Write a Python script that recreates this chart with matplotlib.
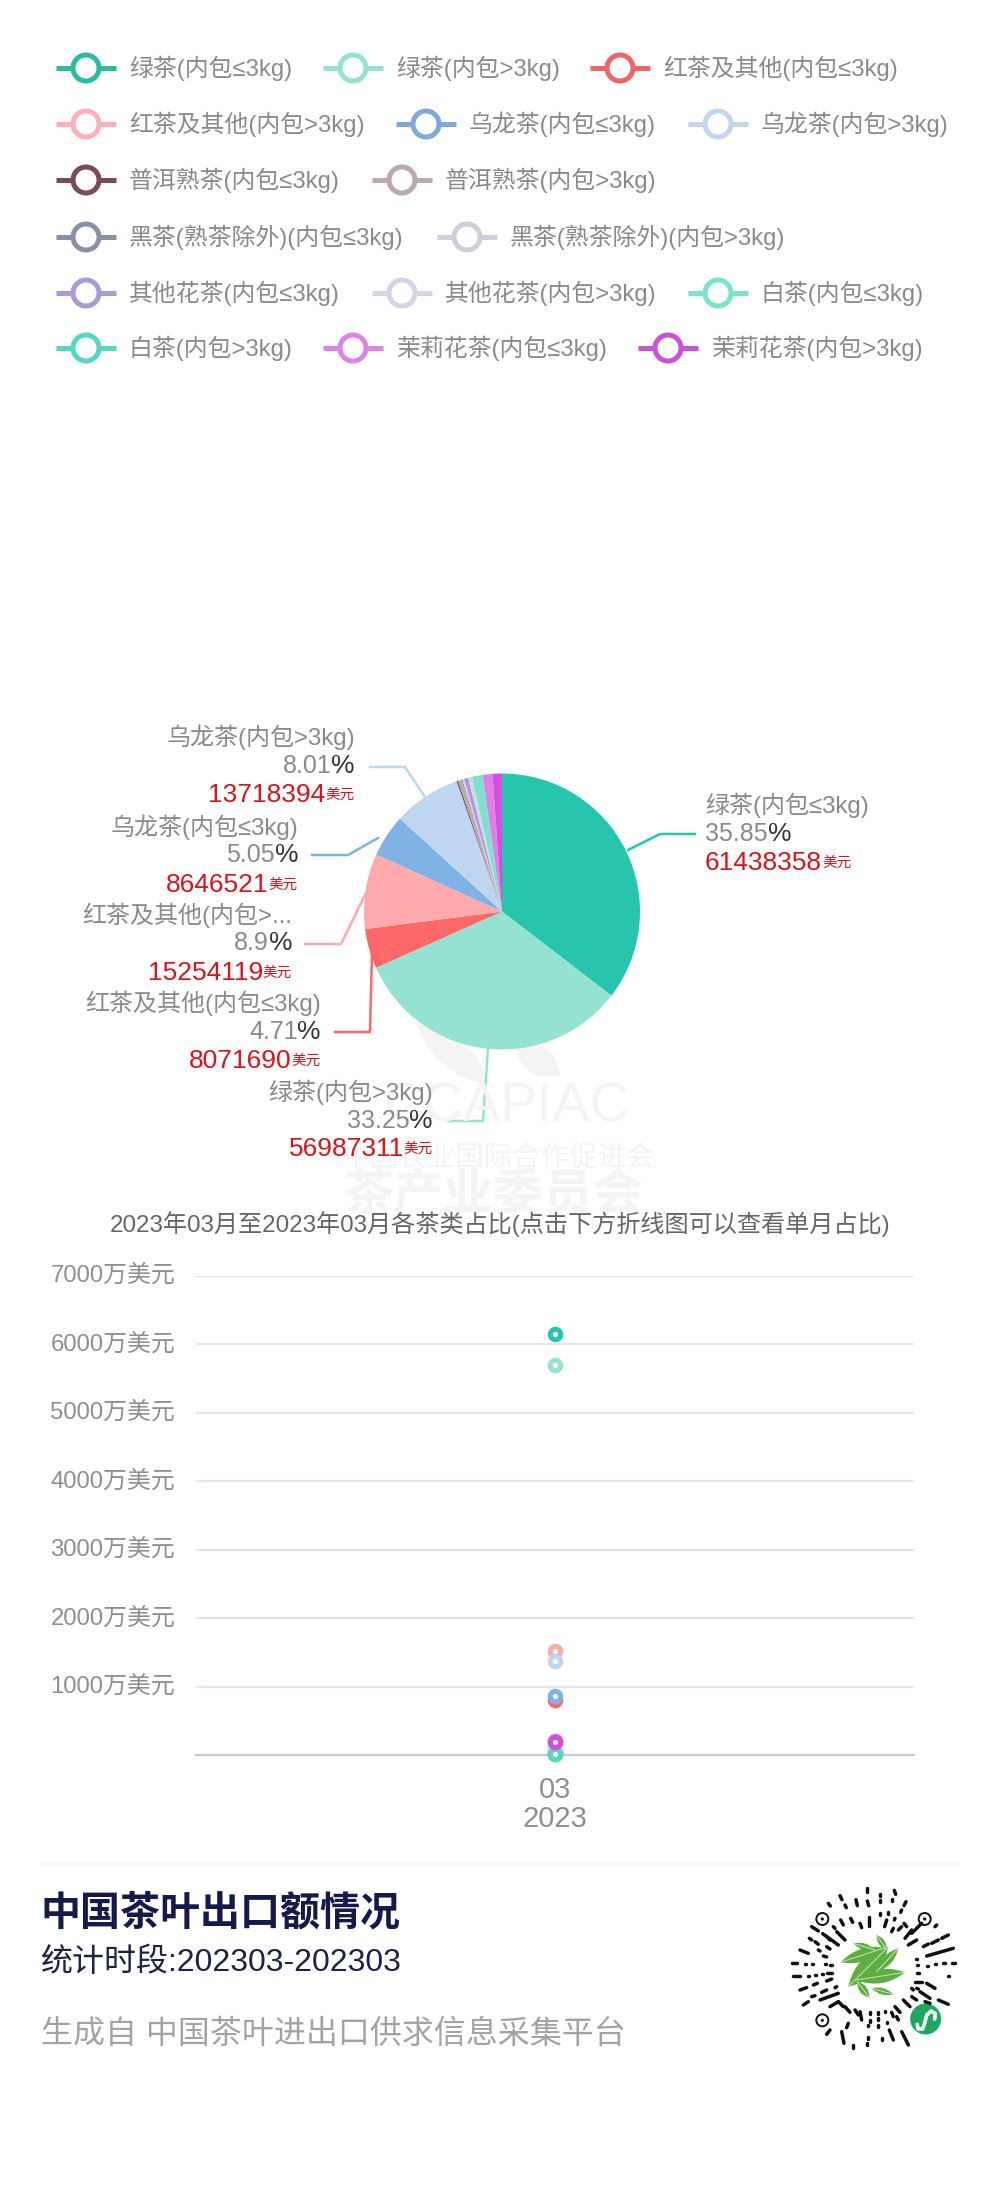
import matplotlib
matplotlib.use("Agg")
import matplotlib.pyplot as plt
from matplotlib.patches import Circle, PathPatch
from matplotlib.path import Path

plt.rcParams['font.family'] = ['Liberation Sans', 'Noto Sans CJK SC', 'DejaVu Sans']

series = ['绿茶(内包≤3kg)', '绿茶(内包>3kg)', '红茶及其他(内包≤3kg)', '红茶及其他(内包>3kg)',
          '乌龙茶(内包≤3kg)', '乌龙茶(内包>3kg)', '普洱熟茶(内包≤3kg)', '普洱熟茶(内包>3kg)',
          '黑茶(熟茶除外)(内包≤3kg)', '黑茶(熟茶除外)(内包>3kg)', '其他花茶(内包≤3kg)', '其他花茶(内包>3kg)',
          '白茶(内包≤3kg)', '白茶(内包>3kg)', '茉莉花茶(内包≤3kg)', '茉莉花茶(内包>3kg)']
values = [61438358, 56987311, 8071690, 15254119, 8646521, 13718394, 300000, 700000,
          200000, 400000, 800000, 800000, 2000000, 150000, 2000000, 1900000]
colors = ['#26C5AC', '#96E2D2', '#FF6868', '#FFAAAC', '#7FB3E6', '#BED6F0', '#7A4A5A', '#BBA9AD',
          '#8A90A6', '#CDD0DA', '#A99BD6', '#D6D4E9', '#7DE2CC', '#55D8C1', '#E07FE6', '#D04FE0']
legend_line_colors = ['#2ABBA0', '#96E2D2', '#EE6666', '#FFB0B8', '#7EA9DA', '#C5D5EC', '#7A4A5A', '#BBA9AD',
                      '#8A90A6', '#CDD0DA', '#A99BD6', '#D6D4E9', '#7DE2CC', '#55D8C1', '#DD84E8', '#C955D6']

# rows of the legend: first series index, symbol x of each item
legend_rows = [(0, [86, 353, 620]), (3, [86, 426, 718]), (6, [86, 402]),
               (8, [86, 467]), (10, [86, 402, 718]), (13, [86, 353, 668])]
legend_y = [68, 124, 180, 237, 293, 348]

yticks = [0, 1000, 2000, 3000, 4000, 5000, 6000, 7000]
ytick_labels = ['', '1000万美元', '2000万美元', '3000万美元', '4000万美元', '5000万美元', '6000万美元', '7000万美元']

# label name, percent, amount, align x, three text rows
pie_labels = [('绿茶(内包≤3kg)', '35.85', '61438358', 705, 'left', [805, 834, 863]),
              ('绿茶(内包>3kg)', '33.25', '56987311', 433, 'right', [1092, 1121, 1149]),
              ('红茶及其他(内包≤3kg)', '4.71', '8071690', 321, 'right', [1003, 1032, 1061]),
              ('红茶及其他(内包>...', '8.9', '15254119', 292, 'right', [915, 943, 973]),
              ('乌龙茶(内包≤3kg)', '5.05', '8646521', 298, 'right', [827, 855, 885]),
              ('乌龙茶(内包>3kg)', '8.01', '13718394', 355, 'right', [737, 766, 795])]
leader_x = [[628, 660, 695], [448, 483, 488], [335, 370, 372], [305, 341, 366], [312, 348, 378], [370, 405, 425]]
leader_y = [[850, 834, 834], [1121, 1121, 1049], [1032, 1032, 953], [944, 944, 893], [855, 855, 838], [767, 767, 797]]

# QR dashes in crop coordinates
qr_dashes = [(262, 38, 262, 52), (300, 58, 300, 62), (343, 46, 347, 58), (180, 62, 186, 74), (228, 74, 232, 92),
             (262, 78, 266, 92), (300, 76, 300, 82), (336, 72, 336, 78), (378, 80, 372, 92), (145, 85, 151, 93),
             (195, 90, 199, 98), (268, 126, 268, 152), (300, 115, 300, 120), (325, 112, 325, 118), (365, 105, 362, 112),
             (320, 135, 314, 155), (345, 130, 343, 135), (212, 130, 218, 142), (182, 135, 190, 150), (240, 145, 245, 158),
             (160, 155, 165, 160), (95, 155, 115, 168), (128, 176, 175, 210), (170, 170, 195, 195), (88, 190, 95, 195),
             (105, 200, 115, 208), (140, 185, 150, 195), (60, 225, 85, 235), (115, 225, 120, 228), (140, 215, 150, 222),
             (130, 243, 140, 246), (35, 263, 50, 263), (75, 266, 78, 266), (95, 266, 98, 266), (135, 268, 138, 268),
             (150, 270, 155, 270), (38, 304, 60, 304), (85, 302, 88, 302), (105, 300, 108, 300), (125, 298, 130, 298),
             (140, 295, 155, 295), (60, 345, 80, 338), (100, 330, 112, 325), (140, 318, 155, 312), (70, 390, 85, 380),
             (95, 365, 105, 362), (125, 352, 140, 345), (165, 338, 170, 335), (120, 375, 175, 355), (150, 395, 175, 380),
             (175, 380, 190, 395), (195, 395, 210, 412), (440, 243, 520, 220), (485, 190, 505, 180), (430, 215, 445, 207),
             (455, 205, 475, 195), (385, 210, 410, 195), (395, 175, 425, 145), (375, 190, 395, 165), (465, 155, 470, 150),
             (372, 145, 380, 155), (355, 165, 365, 155), (335, 170, 340, 160), (408, 252, 412, 252), (440, 272, 445, 272),
             (465, 268, 468, 268), (490, 265, 495, 265), (515, 263, 525, 263), (410, 270, 415, 270), (410, 295, 418, 295),
             (505, 303, 507, 303), (405, 320, 425, 320), (440, 325, 465, 340), (410, 340, 415, 342), (420, 350, 450, 370),
             (395, 340, 400, 345), (395, 365, 410, 375), (370, 375, 390, 395), (475, 375, 505, 388), (345, 395, 360, 412),
             (435, 380, 450, 385), (240, 410, 245, 435), (270, 412, 270, 418), (295, 412, 295, 418), (315, 408, 315, 412),
             (335, 412, 340, 425), (350, 425, 355, 435), (295, 430, 295, 435), (270, 435, 270, 440), (320, 440, 320, 445),
             (295, 450, 295, 455), (265, 450, 265, 452), (205, 445, 200, 458), (185, 470, 192, 505), (150, 465, 140, 478),
             (328, 465, 340, 495), (365, 470, 385, 510), (265, 485, 265, 492), (262, 505, 262, 510), (218, 510, 218, 520),
             (305, 490, 305, 495), (225, 405, 235, 420)]
qr_eyes = [(127, 132), (434, 132), (127, 436)]
# leaf tips and bulge
qr_leaves = [(182, 262, 315, 218, 38), (205, 335, 325, 215, 55), (228, 315, 375, 292, 42), (220, 205, 285, 225, 20),
             (290, 180, 320, 225, 20), (355, 220, 290, 290, 28), (232, 320, 268, 368, 24), (275, 340, 340, 358, 20)]

W, H = 1000, 2195
fig = plt.figure(figsize=(W / 100, H / 100), dpi=100, facecolor='white')


def rect(x0, y0, x1, y1):
    # pixel box (y down) to figure fractions
    return [x0 / W, 1 - y1 / H, (x1 - x0) / W, (y1 - y0) / H]


ax = fig.add_axes([0, 0, 1, 1])
ax.set_xlim(0, W)
ax.set_ylim(H, 0)
ax.axis('off')
renderer = fig.canvas.get_renderer()


def run_text(x, y, parts, align):
    # parts is a list of (text, size, color); drawn next to each other on one centre line
    if align == 'right':
        parts = parts[::-1]
    for s, size, col in parts:
        t = ax.text(x, y, s, fontsize=size, color=col, ha=align, va='center')
        w = t.get_window_extent(renderer).width
        x = x - w if align == 'right' else x + w


def leaf(x0, y0, x1, y1, wd, col):
    mx, my = (x0 + x1) / 2, (y0 + y1) / 2
    dx, dy = x1 - x0, y1 - y0
    n = (dx ** 2 + dy ** 2) ** 0.5
    px, py = -dy / n * wd, dx / n * wd
    verts = [(x0, y0), (mx + px, my + py), (x1, y1), (mx - px, my - py), (x0, y0)]
    codes = [Path.MOVETO, Path.CURVE3, Path.CURVE3, Path.CURVE3, Path.CURVE3]
    ax.add_patch(PathPatch(Path(verts, codes), fc=col, ec='none'))


def qx(x):
    return 780 + x / 3


def qy(y):
    return 1875 + y / 3


# legend
for (first, xs), y in zip(legend_rows, legend_y):
    for j, x in enumerate(xs):
        i = first + j
        col = legend_line_colors[i]
        ax.plot([x - 30, x + 30], [y, y], color=col, lw=3.6, solid_capstyle='butt', zorder=2)
        ax.add_patch(Circle((x, y), 13, fc='white', ec=col, lw=3.6, zorder=3))
        ax.text(x + 43, y, series[i], fontsize=17.2, color='#8a8a8a', va='center', ha='left')

# watermark behind the pie
wm = '#f4f4f4'
leaf(415, 1020, 490, 1085, 30, wm)
leaf(560, 1075, 515, 1045, 28, wm)
ax.text(506, 1108, 'CCAPIAC', fontsize=40, color=wm, ha='center', va='center')
ax.text(498, 1158, '中国农业国际合作促进会', fontsize=20.5, color=wm, ha='center', va='center')
ax.text(494, 1197, '茶产业委员会', fontsize=36, color=wm, ha='center', va='center', weight='bold')

# pie
pie_ax = fig.add_axes(rect(364, 773.5, 640, 1049.5))
pie_ax.pie(values, colors=colors, startangle=90, counterclock=False, radius=1)
pie_ax.set_xlim(-1, 1)
pie_ax.set_ylim(-1, 1)
pie_ax.patch.set_alpha(0)

for i, (name, pct, amount, x, align, ys) in enumerate(pie_labels):
    ax.plot(leader_x[i], leader_y[i], color=colors[i], lw=1.8, zorder=2)
    run_text(x, ys[0], [(name, 17.3, '#8a8a8a')], align)
    run_text(x, ys[1], [(pct, 18, '#8a8a8a'), ('%', 19, '#333333')], align)
    run_text(x, ys[2], [(amount, 19, '#d8141c'), ('美元', 10.5, '#d8141c')], align)

ax.text(500, 1224, '2023年03月至2023年03月各茶类占比(点击下方折线图可以查看单月占比)',
        fontsize=17.4, color='#666666', ha='center', va='center')

# point chart
line_ax = fig.add_axes(rect(196, 1275.5, 914, 1755))
line_ax.patch.set_alpha(0)
line_ax.set_xlim(-1, 1)
line_ax.set_ylim(0, 7000)
for i, v in enumerate(values):
    line_ax.scatter([0], [v / 10000], s=56, facecolor='white', edgecolor=colors[i], linewidth=3.7,
                    zorder=3 + i * 0.01, clip_on=False)
line_ax.set_yticks(yticks)
line_ax.set_yticklabels(ytick_labels, fontsize=17.2, color='#8f8f8f', va='center')
line_ax.tick_params(axis='y', length=0, pad=15)
line_ax.set_xticks([0])
line_ax.set_xticklabels(['03\n2023'], fontsize=21, color='#8f8f8f', linespacing=1.05)
line_ax.tick_params(axis='x', length=0, pad=15)
line_ax.grid(axis='y', color='#E3E6EE', lw=1.6)
line_ax.set_axisbelow(True)
for side in ['top', 'right', 'left']:
    line_ax.spines[side].set_visible(False)
line_ax.spines['bottom'].set_color('#C8CCD8')
line_ax.spines['bottom'].set_linewidth(1.6)

# footer
ax.plot([40, 960], [1864, 1864], color='#f3f3f3', lw=1.2)
ax.text(41, 1913, '中国茶叶出口额情况', fontsize=28.8, color='#141B4A', weight='bold', va='center')
ax.text(41, 1963, '统计时段:202303-202303', fontsize=23, color='#1d2340', va='center')
ax.text(41, 2035, '生成自 中国茶叶进出口供求信息采集平台', fontsize=23, color='#a3a3a3', va='center')

# mini program code
for x0, y0, x1, y1 in qr_dashes:
    ax.plot([qx(x0), qx(x1)], [qy(y0), qy(y1)], color='#111111', lw=2.5, solid_capstyle='round')
for x, y in qr_eyes:
    ax.add_patch(Circle((qx(x), qy(y)), 6, fc='white', ec='#111111', lw=1.4))
    ax.add_patch(Circle((qx(x), qy(y)), 1.6, fc='#111111', ec='none'))
for x0, y0, x1, y1, wd in qr_leaves:
    leaf(qx(x0), qy(y0), qx(x1), qy(y1), wd / 3, '#5FAE42')
    ax.plot([qx(x0), qx(x1)], [qy(y0), qy(y1)], color='#C9E6B8', lw=0.7)
ax.add_patch(Circle((qx(437), qy(432)), 15.5, fc='#1DA862', ec='none'))
s_path = [(412, 448), (414, 462), (428, 462), (434, 445), (440, 420), (454, 408), (466, 416), (464, 432)]
ax.plot([qx(a) for a, b in s_path], [qy(b) for a, b in s_path], color='white', lw=2.6, solid_capstyle='round')

fig.savefig('out.png', dpi=100)
